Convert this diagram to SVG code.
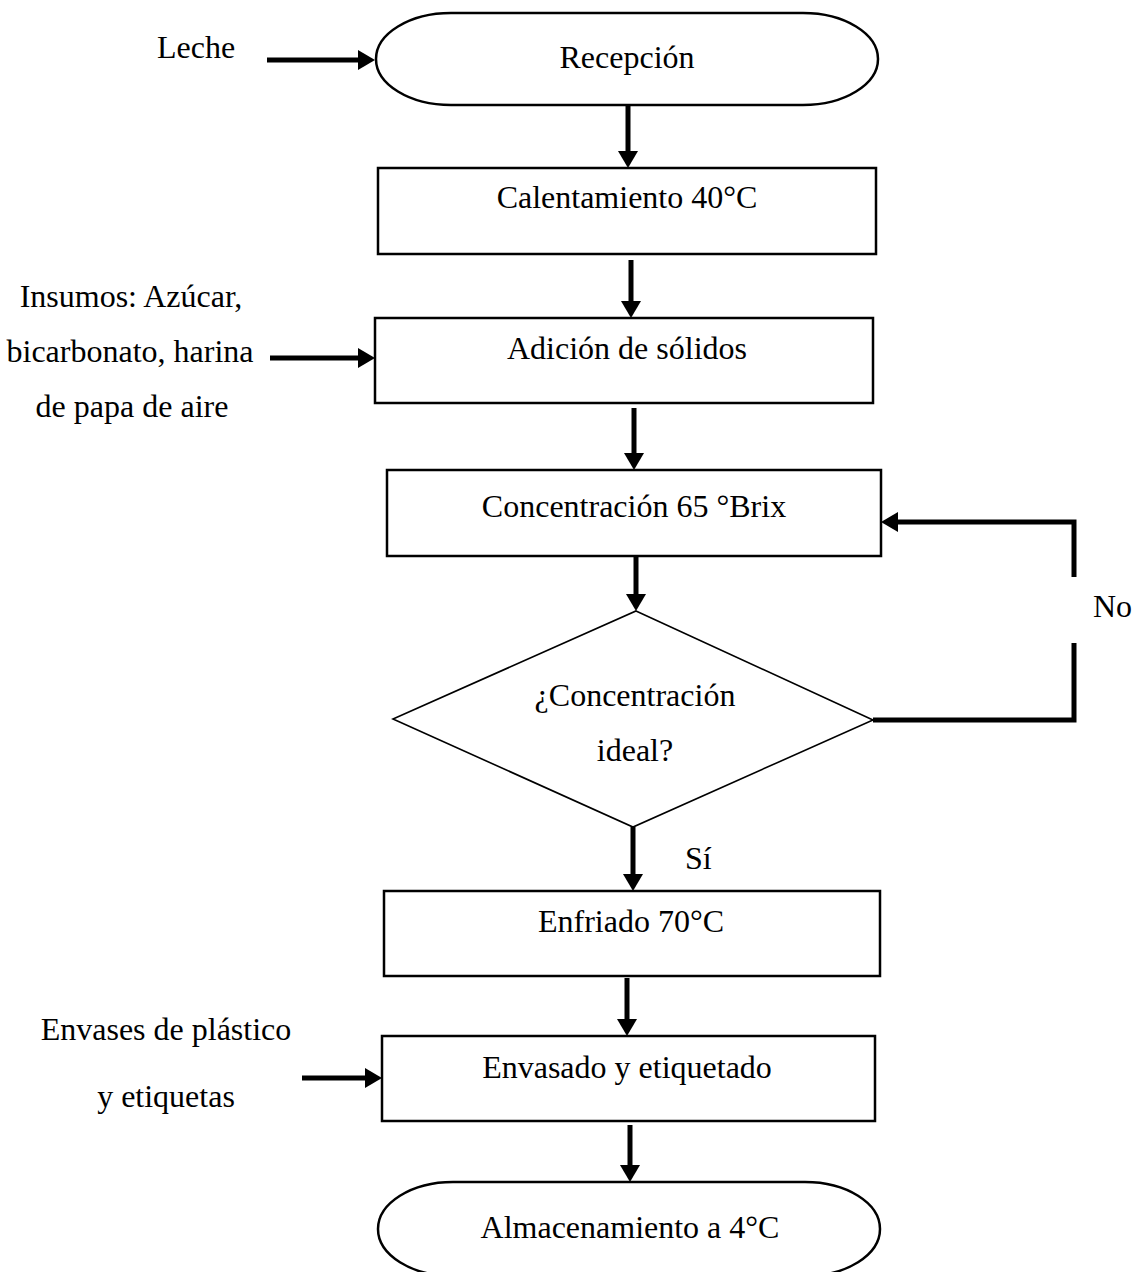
<svg xmlns="http://www.w3.org/2000/svg" width="1136" height="1272" viewBox="0 0 1136 1272">
<style>
  text { font-family: "Liberation Serif", "Times New Roman", serif; font-size: 32px; fill: #000; }
  .c { text-anchor: middle; }
  .box { fill: #fff; stroke: #000; stroke-width: 2.5; }
  .dia { fill: #fff; stroke: #000; stroke-width: 1.6; }
  .con { fill: none; stroke: #000; stroke-width: 5; }
</style>
<defs>
  <marker id="ah" markerUnits="userSpaceOnUse" markerWidth="18" markerHeight="20" refX="0" refY="10" orient="auto">
    <path d="M0,0 L17,10 L0,20 Z" fill="#000"/>
  </marker>
</defs>
<rect width="1136" height="1272" fill="#fff"/>

<g id="connectors">
  <line class="con" x1="267" y1="60" x2="358" y2="60" marker-end="url(#ah)"/>
  <line class="con" x1="628" y1="105" x2="628" y2="151" marker-end="url(#ah)"/>
  <line class="con" x1="631" y1="260" x2="631" y2="301" marker-end="url(#ah)"/>
  <line class="con" x1="270" y1="358" x2="358" y2="358" marker-end="url(#ah)"/>
  <line class="con" x1="634" y1="408" x2="634" y2="453" marker-end="url(#ah)"/>
  <line class="con" x1="636" y1="556" x2="636" y2="594" marker-end="url(#ah)"/>
  <path class="con" d="M873,720 H1074 V643"/>
  <path class="con" d="M1074,577 V522 H898" marker-end="url(#ah)"/>
  <line class="con" x1="633" y1="827" x2="633" y2="874" marker-end="url(#ah)"/>
  <line class="con" x1="627" y1="978" x2="627" y2="1019" marker-end="url(#ah)"/>
  <line class="con" x1="302" y1="1078" x2="365" y2="1078" marker-end="url(#ah)"/>
  <line class="con" x1="630" y1="1125" x2="630" y2="1165" marker-end="url(#ah)"/>
</g>

<g id="leche"><text class="c" x="196" y="58">Leche</text></g>

<g id="recepcion">
  <path class="box" d="M451,13 H803 A75,46 0 0 1 803,105 H451 A75,46 0 0 1 451,13 Z"/>
  <text class="c" x="627" y="68">Recepción</text>
</g>

<g id="calentamiento">
  <rect class="box" x="378" y="168" width="498" height="86"/>
  <text class="c" x="627" y="208">Calentamiento 40°C</text>
</g>

<g id="insumos">
  <text class="c" x="131" y="307">Insumos: Azúcar,</text>
  <text class="c" x="130" y="362">bicarbonato, harina</text>
  <text class="c" x="132" y="417">de papa de aire</text>
</g>

<g id="adicion">
  <rect class="box" x="375" y="318" width="498" height="85"/>
  <text class="c" x="627" y="359">Adición de sólidos</text>
</g>

<g id="concentracion">
  <rect class="box" x="387" y="470" width="494" height="86"/>
  <text class="c" x="634" y="517">Concentración 65 °Brix</text>
</g>

<g id="decision">
  <polygon class="dia" points="636,611 873,720 633,827 393,719"/>
  <text class="c" x="635" y="706">¿Concentración</text>
  <text class="c" x="635" y="761">ideal?</text>
</g>

<g id="label-no"><text x="1093" y="617">No</text></g>
<g id="label-si"><text x="685" y="869">Sí</text></g>

<g id="enfriado">
  <rect class="box" x="384" y="891" width="496" height="85"/>
  <text class="c" x="631" y="932">Enfriado 70°C</text>
</g>

<g id="envases">
  <text class="c" x="166" y="1040">Envases de plástico</text>
  <text class="c" x="166" y="1107">y etiquetas</text>
</g>

<g id="envasado">
  <rect class="box" x="382" y="1036" width="493" height="85"/>
  <text class="c" x="627" y="1078">Envasado y etiquetado</text>
</g>

<g id="almacenamiento">
  <path class="box" d="M453,1182 H805 A75,47 0 0 1 805,1276 H453 A75,47 0 0 1 453,1182 Z"/>
  <text class="c" x="630" y="1238">Almacenamiento a 4°C</text>
</g>
</svg>
